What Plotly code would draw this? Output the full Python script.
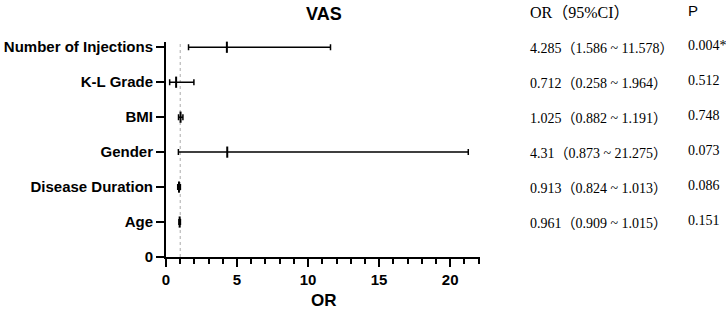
import plotly.graph_objects as go

# ---- data (top to bottom as shown) ----
categories = ["Number of Injections", "K-L Grade", "BMI", "Gender", "Disease Duration", "Age"]
or_values = [4.285, 0.712, 1.025, 4.31, 0.913, 0.961]
ci_lower = [1.586, 0.258, 0.882, 0.873, 0.824, 0.909]
ci_upper = [11.578, 1.964, 1.191, 21.275, 1.013, 1.015]
p_values = ["0.004*", "0.512", "0.748", "0.073", "0.086", "0.151"]
x_ticks = [0, 5, 10, 15, 20]

n = len(categories)
ypos = [n - i for i in range(n)]  # Number of Injections at top

fig = go.Figure()
fig.add_trace(go.Scatter(
    x=or_values, y=ypos, mode="markers",
    marker=dict(symbol="line-ns-open", size=8, color="black",
                line=dict(width=2, color="black")),
    error_x=dict(type="data", symmetric=False,
                 array=[u - o for u, o in zip(ci_upper, or_values)],
                 arrayminus=[o - l for o, l in zip(or_values, ci_lower)],
                 color="black", thickness=1.5, width=3),
    showlegend=False, cliponaxis=False,
))

# reference line at OR = 1
fig.add_shape(type="line", xref="x", yref="paper", x0=1, x1=1, y0=0, y1=1,
              line=dict(color="#aaaaaa", width=1, dash="dot"), layer="below")

fig.update_layout(
    width=726, height=310,
    margin=dict(l=166, r=246, t=42, b=53),
    paper_bgcolor="white", plot_bgcolor="white",
    xaxis=dict(range=[0, 22.1], tickvals=x_ticks, showgrid=False, zeroline=False,
               automargin=False,
               showline=True, linecolor="black", linewidth=2,
               ticks="outside", ticklen=8, tickwidth=2, tickcolor="black",
               tickfont=dict(family="Liberation Sans, Arial", size=15, color="black", weight="bold"),
               minor=dict(dtick=1, ticks="outside", ticklen=5, tickwidth=1.5, tickcolor="black")),
    yaxis=dict(range=[0, 6.15], tickvals=[0] + ypos, ticktext=["0"] + categories,
               showgrid=False, zeroline=False, automargin=False,
               showline=True, linecolor="black", linewidth=2,
               ticks="outside", ticklen=8, tickwidth=2, tickcolor="black",
               tickfont=dict(family="Liberation Sans, Arial", size=15, color="black", weight="bold")),
)

# title and axis title
fig.add_annotation(text="<b>VAS</b>", xref="paper", yref="paper", x=0.503, y=1.13,
                   yanchor="middle", showarrow=False,
                   font=dict(family="Liberation Sans, Arial", size=18, color="black"))
fig.add_annotation(text="<b>OR</b>", xref="paper", yref="paper", x=0.503, y=-0.2,
                   yanchor="middle", showarrow=False,
                   font=dict(family="Liberation Sans, Arial", size=17, color="black"))

# right-hand table
serif = "Liberation Serif, Times New Roman, Noto Sans CJK SC"
fig.add_annotation(text="OR（95%CI）", xref="paper", yref="paper", x=1.153, y=1.137,
                   xanchor="left", yanchor="middle", showarrow=False,
                   font=dict(family=serif, size=16, color="black"))
fig.add_annotation(text="P", xref="paper", yref="paper", x=1.655, y=1.145,
                   xanchor="left", yanchor="middle", showarrow=False,
                   font=dict(family="Liberation Sans, Arial", size=15, color="black"))
for yv, o, lo, hi, p in zip(ypos, or_values, ci_lower, ci_upper, p_values):
    fig.add_annotation(text=f"{o:g}（{lo:g} ~ {hi:g}）", xref="paper", yref="y", x=1.153, y=yv,
                       yshift=-1, xanchor="left", yanchor="middle", showarrow=False,
                       font=dict(family=serif, size=14, color="black"))
    fig.add_annotation(text=p, xref="paper", yref="y", x=1.655, y=yv, yshift=2,
                       xanchor="left", yanchor="middle", showarrow=False,
                       font=dict(family=serif, size=14, color="black"))

fig.write_html("out.html", config={"displayModeBar": False},
               post_script="document.body.style.margin='0px';")
